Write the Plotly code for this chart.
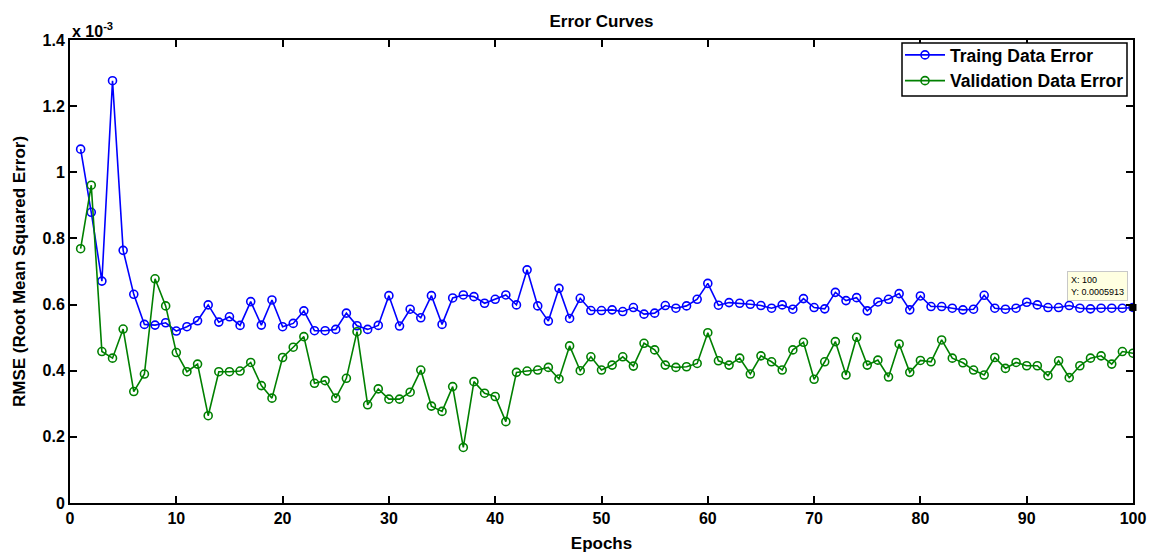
import plotly.graph_objects as go

epochs = list(range(1, 101))

# RMSE values in units of 1e-3
train_rmse_e3 = [
    1.070, 0.879, 0.671, 1.277, 0.764, 0.631, 0.540, 0.538, 0.545, 0.520,
    0.533, 0.551, 0.599, 0.547, 0.563, 0.537, 0.609, 0.538, 0.614, 0.533,
    0.543, 0.581, 0.521, 0.521, 0.525, 0.574, 0.536, 0.525, 0.537, 0.627,
    0.535, 0.586, 0.560, 0.627, 0.540, 0.620, 0.629, 0.624, 0.604, 0.616,
    0.629, 0.599, 0.705, 0.596, 0.550, 0.649, 0.558, 0.619, 0.582, 0.582,
    0.584, 0.579, 0.591, 0.571, 0.574, 0.597, 0.589, 0.596, 0.616, 0.664,
    0.598, 0.606, 0.604, 0.601, 0.597, 0.589, 0.599, 0.586, 0.618, 0.591,
    0.587, 0.637, 0.612, 0.621, 0.581, 0.608, 0.616, 0.633, 0.584, 0.626,
    0.594, 0.594, 0.589, 0.584, 0.586, 0.628, 0.589, 0.586, 0.589, 0.607,
    0.599, 0.591, 0.591, 0.597, 0.589, 0.587, 0.589, 0.589, 0.589, 0.5913,
]

valid_rmse_e3 = [
    0.769, 0.961, 0.458, 0.438, 0.526, 0.337, 0.390, 0.678, 0.596, 0.455,
    0.397, 0.420, 0.264, 0.397, 0.397, 0.399, 0.425, 0.355, 0.317, 0.440,
    0.471, 0.503, 0.362, 0.370, 0.317, 0.377, 0.518, 0.297, 0.345, 0.314,
    0.314, 0.335, 0.402, 0.293, 0.277, 0.352, 0.168, 0.367, 0.332, 0.322,
    0.246, 0.395, 0.399, 0.402, 0.410, 0.375, 0.475, 0.400, 0.442, 0.402,
    0.417, 0.442, 0.414, 0.483, 0.463, 0.417, 0.410, 0.412, 0.422, 0.515,
    0.430, 0.417, 0.438, 0.390, 0.445, 0.427, 0.402, 0.463, 0.486, 0.374,
    0.427, 0.488, 0.387, 0.501, 0.417, 0.432, 0.381, 0.481, 0.395, 0.431,
    0.427, 0.493, 0.438, 0.424, 0.402, 0.387, 0.440, 0.407, 0.425, 0.415,
    0.415, 0.385, 0.430, 0.379, 0.415, 0.438, 0.445, 0.420, 0.458, 0.453,
]

x_ticks = [0, 10, 20, 30, 40, 50, 60, 70, 80, 90, 100]
y_ticks = [0, 0.2, 0.4, 0.6, 0.8, 1.0, 1.2, 1.4]
y_tick_labels = ["0", "0.2", "0.4", "0.6", "0.8", "1", "1.2", "1.4"]

tip_x = 100
tip_y_e3 = 0.5913

FONT = "Liberation Sans, Arial, sans-serif"

fig = go.Figure()
fig.add_trace(go.Scatter(
    x=epochs, y=train_rmse_e3, mode="lines+markers", name="Traing Data Error",
    line=dict(color="#0000ff", width=1.6),
    marker=dict(symbol="circle-open", size=8, color="#0000ff", line=dict(width=1.6)),
))
fig.add_trace(go.Scatter(
    x=epochs, y=valid_rmse_e3, mode="lines+markers", name="Validation Data Error",
    line=dict(color="#008000", width=1.6),
    marker=dict(symbol="circle-open", size=8, color="#008000", line=dict(width=1.6)),
))
fig.add_trace(go.Scatter(
    x=[tip_x], y=[tip_y_e3], mode="markers", showlegend=False,
    marker=dict(symbol="square", size=7, color="black"),
    cliponaxis=False,
))

axis_common = dict(
    showgrid=False, zeroline=False, showline=True, linecolor="black", linewidth=2,
    mirror="ticks", ticks="inside", ticklen=7, tickwidth=1.5, tickcolor="black",
    tickfont=dict(family=FONT, size=16, color="black", weight="bold"),
    automargin=False,
)

fig.update_xaxes(range=[0, 100], tickvals=x_ticks, **axis_common,
                 title=dict(text="<b>Epochs</b>", font=dict(family=FONT, size=17, color="black"), standoff=11))
fig.update_yaxes(range=[0, 1.4], tickvals=y_ticks, ticktext=y_tick_labels, **axis_common,
                 title=dict(text="<b>RMSE (Root Mean Squared Error)</b>", font=dict(family=FONT, size=17, color="black"), standoff=13))

fig.add_annotation(
    x=0, y=1, xref="paper", yref="paper", xanchor="left", yanchor="bottom",
    text="<b>x 10<sup>-3</sup></b>", showarrow=False,
    font=dict(family=FONT, size=16, color="black"), yshift=-2,
)
fig.add_annotation(
    x=tip_x, y=tip_y_e3, xref="x", yref="y", xanchor="right", yanchor="bottom",
    text="X: 100<br>Y: 0.0005913", align="left", showarrow=False,
    font=dict(family=FONT, size=9, color="black"),
    bgcolor="#ffffe1", bordercolor="#c8c8c8", borderwidth=1, borderpad=3,
    xshift=-5, yshift=6,
)

# legend frame (pixel box 902..1127 x 43..96 converted to paper coords)
PW, PH = 1063.0, 463.0
fig.add_shape(
    type="rect", xref="paper", yref="paper", layer="above",
    x0=(902 - 70) / PW, x1=(1127 - 70) / PW,
    y0=(503 - 96) / PH, y1=(503 - 43) / PH,
    fillcolor="white", line=dict(color="black", width=1.5),
)

fig.update_layout(
    width=1151, height=556,
    margin=dict(l=70, r=18, t=40, b=53),
    paper_bgcolor="white", plot_bgcolor="white",
    title=dict(text="<b>Error Curves</b>", xref="paper", x=0.5, xanchor="center",
               yref="container", y=0.962, yanchor="middle",
               font=dict(family=FONT, size=17, color="black")),
    legend=dict(x=(900 - 70) / PW, y=(503 - 37) / PH, xanchor="left", yanchor="top",
                bgcolor="rgba(0,0,0,0)", borderwidth=0,
                font=dict(family=FONT, size=17.5, color="black", weight="bold"),
                itemwidth=40, tracegroupgap=0),
    showlegend=True,
)

fig.write_html("out.html")
